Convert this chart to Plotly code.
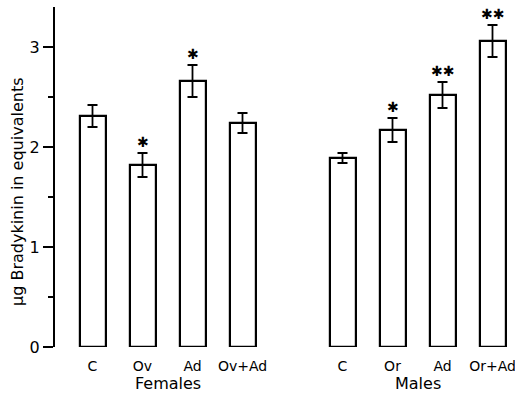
import plotly.graph_objects as go

categories = ["C", "Ov", "Ad", "Ov+Ad", "C", "Or", "Ad", "Or+Ad"]
positions = [0, 1, 2, 3, 5, 6, 7, 8]
values = [2.31, 1.82, 2.66, 2.24, 1.89, 2.17, 2.52, 3.06]
errors = [0.11, 0.12, 0.16, 0.10, 0.05, 0.12, 0.13, 0.16]
stars = ["", "✱", "✱", "", "", "✱", "✱✱", "✱✱"]
groups = ["Females", "Males"]
group_centers = [1.5, 6.5]
y_ticks = [0, 1, 2, 3]

FONT = "DejaVu Sans"

fig = go.Figure()
fig.add_trace(go.Bar(
    x=positions, y=values, width=0.52,
    marker=dict(color="white", line=dict(color="black", width=2.2)),
    error_y=dict(type="data", array=errors, visible=True, color="black",
                 thickness=1.8, width=5),
    showlegend=False, hoverinfo="skip",
))

for xp, v, e, s in zip(positions, values, errors, stars):
    if s:
        fig.add_annotation(x=xp, y=v + e, text=s, showarrow=False,
                           yanchor="bottom", yshift=1,
                           font=dict(family=FONT, size=14, color="black"))

for g, c in zip(groups, group_centers):
    fig.add_annotation(x=c, y=0, yref="y", text=g, showarrow=False,
                       yanchor="middle", yshift=-36,
                       font=dict(family=FONT, size=16, color="black"))

fig.add_annotation(xref="paper", x=0, xshift=-38, xanchor="center",
                   yref="y", y=1.55,
                   text="μg Bradykinin in equivalents", textangle=-90,
                   showarrow=False,
                   font=dict(family=FONT, size=16, color="black"))

fig.update_layout(
    width=515, height=395,
    margin=dict(l=55, r=0, t=7, b=48),
    paper_bgcolor="white", plot_bgcolor="white",
    bargap=0,
    xaxis=dict(range=[-0.75, 8.45], tickvals=positions, ticktext=categories,
               showline=False, showgrid=False, zeroline=False, ticks="",
               ticklabelstandoff=9, ticklabeloverflow="allow",
               tickfont=dict(family=FONT, size=14, color="black")),
    yaxis=dict(range=[0, 3.4], tickvals=y_ticks, ticktext=[str(t) for t in y_ticks],
               showline=True, linecolor="black", linewidth=2,
               showgrid=False, zeroline=False,
               ticks="outside", ticklen=10, tickwidth=2, tickcolor="black",
               minor=dict(tickvals=[0.5, 1.5, 2.5], ticks="outside", ticklen=5,
                          tickwidth=1.5, tickcolor="black", showgrid=False),
               tickfont=dict(family=FONT, size=16, color="black")),
)

fig.write_html("out.html", config={"displayModeBar": False},
               post_script="document.body.style.margin='0';")
